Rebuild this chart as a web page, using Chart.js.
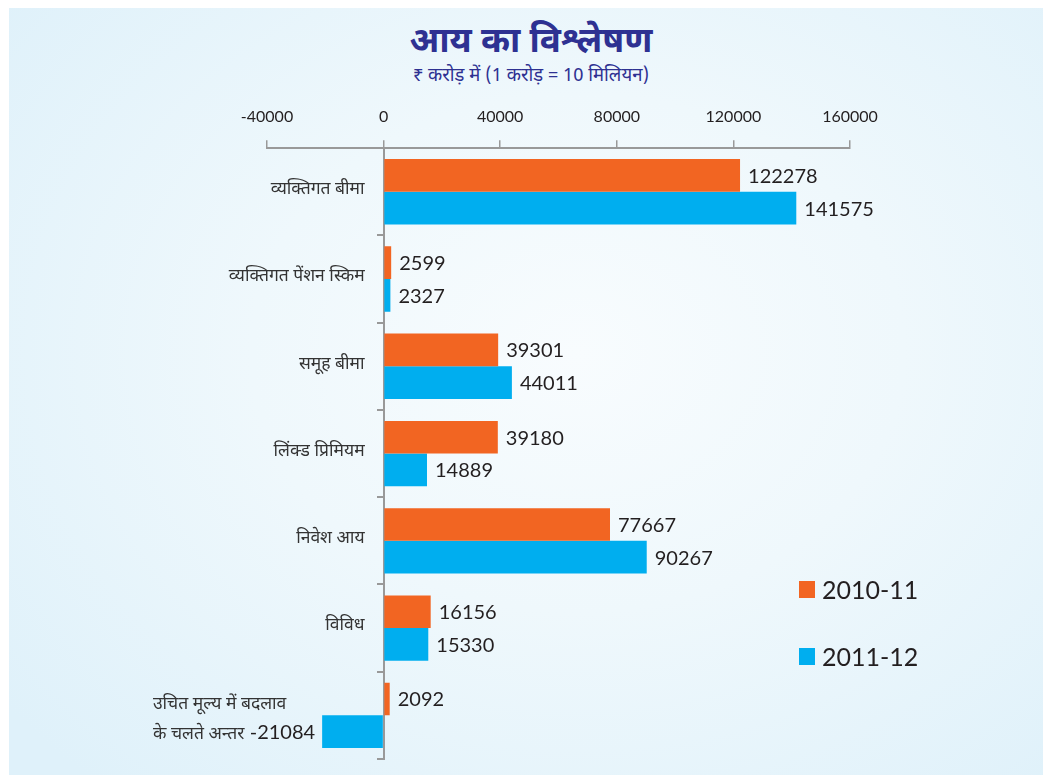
<!DOCTYPE html>
<html>
<head>
<meta charset="utf-8">
<script src="https://cdn.jsdelivr.net/npm/chart.js@4/dist/chart.umd.min.js"></script>
<style>
  html, body { margin: 0; padding: 0; background: #ffffff; }
  #wrap { position: relative; width: 1043px; height: 775px; overflow: hidden; }
  #panel { position: absolute; left: 9px; top: 8px; right: 0; bottom: 0;
    background: radial-gradient(ellipse 70% 75% at 55% 45%, #f8fcfe 0%, #eff8fc 45%, #dff1fa 100%); }
  #chart { position: absolute; left: 0; top: 0; }
  .hdr { position: absolute; left: 0; width: 1062px; text-align: center; color: #2e3192;
    font-family: "Noto Sans Devanagari", "Lohit Devanagari", "Noto Sans", sans-serif; }
  #title { top: 22px; font-size: 35px; font-weight: bold; line-height: 44px; }
  #subtitle { top: 65px; font-size: 18.5px; line-height: 24px; }
  #legend { position: absolute; left: 799px; top: 570px; font-family: Lato, "Open Sans", sans-serif; }
  .li { position: relative; height: 38px; margin-bottom: 29px; }
  .sw { position: absolute; left: 0; top: 11px; width: 16px; height: 17px; }
  .lt { position: absolute; left: 23px; top: 0; font-size: 25px; line-height: 38px; color: #231f20; white-space: nowrap; }
</style>
</head>
<body>
<div id="wrap">
  <div id="panel"></div>
  <div id="title" class="hdr">आय का विश्लेषण</div>
  <div id="subtitle" class="hdr">₹ करोड़ में (1 करोड़ = 10 मिलियन)</div>
  <canvas id="chart" width="1043" height="775"></canvas>
  <div id="legend"></div>
</div>
<script>
// ---- data ----
const categories = [
  'व्यक्तिगत बीमा',
  'व्यक्तिगत पेंशन स्किम',
  'समूह बीमा',
  'लिंक्ड प्रिमियम',
  'निवेश आय',
  'विविध',
  ['उचित मूल्य में बदलाव', 'के चलते अन्तर']
];
const seriesNames = ['2010-11', '2011-12'];
const values2010 = [122278, 2599, 39301, 39180, 77667, 16156, 2092];
const values2011 = [141575, 2327, 44011, 14889, 90267, 15330, -21084];
const xTicks = [-40000, 0, 40000, 80000, 120000, 160000];
const seriesColors = ['#f26522', '#00aeef'];

const devFont = '"Noto Sans Devanagari", "Lohit Devanagari", "Noto Sans", sans-serif';
const numFont = 'Lato, "Open Sans", sans-serif';

const categoryLabels = {
  id: 'categoryLabels',
  afterDraw(chart) {
    const ctx = chart.ctx;
    const xs = chart.scales.x, ys = chart.scales.y;
    const x0 = xs.getPixelForValue(0);
    ctx.save();
    ctx.fillStyle = '#333333';
    ctx.font = '17.5px ' + devFont;
    ctx.textBaseline = 'middle';
    categories.forEach((lab, i) => {
      const y = ys.getPixelForValue(i);
      if (Array.isArray(lab)) {
        ctx.textAlign = 'left';
        const lx = chart.chartArea.left - 114;
        ctx.fillText(lab[0], lx, y - 10);
        ctx.fillText(lab[1], lx, y + 20);
      } else {
        ctx.textAlign = 'right';
        ctx.fillText(lab, x0 - 19, y - 1);
      }
    });
    ctx.restore();
  }
};

const valueLabels = {
  id: 'valueLabels',
  afterDatasetsDraw(chart) {
    const ctx = chart.ctx;
    ctx.save();
    ctx.fillStyle = '#231f20';
    ctx.font = '20px ' + numFont;
    ctx.textBaseline = 'middle';
    chart.data.datasets.forEach((ds, di) => {
      chart.getDatasetMeta(di).data.forEach((bar, i) => {
        const v = ds.data[i];
        if (v >= 0) {
          ctx.textAlign = 'left';
          ctx.fillText(String(v), bar.x + 8, bar.y + 1);
        } else {
          ctx.textAlign = 'right';
          ctx.fillText(String(v), bar.x - 7, bar.y + 1);
        }
      });
    });
    ctx.restore();
  }
};

const chart = new Chart(document.getElementById('chart'), {
  type: 'bar',
  data: {
    labels: categories,
    datasets: [
      { label: seriesNames[0], data: values2010, backgroundColor: seriesColors[0] },
      { label: seriesNames[1], data: values2011, backgroundColor: seriesColors[1] }
    ]
  },
  options: {
    indexAxis: 'y',
    responsive: false,
    animation: false,
    devicePixelRatio: 1,
    layout: { padding: { left: 267, right: 193, top: 93, bottom: 16 } },
    datasets: { bar: { categoryPercentage: 0.75, barPercentage: 1.0 } },
    plugins: { legend: { display: false }, title: { display: false }, tooltip: { enabled: false } },
    scales: {
      x: {
        position: 'top',
        min: xTicks[0], max: xTicks[xTicks.length - 1],
        afterBuildTicks: s => { s.ticks = xTicks.map(v => ({ value: v })); },
        grid: { drawOnChartArea: false, drawTicks: true, tickLength: 8, color: '#999999', lineWidth: 1.5 },
        border: { display: true, color: '#999999', width: 2 },
        ticks: { color: '#231f20', padding: 14, font: { family: numFont, size: 16 }, maxRotation: 0,
                 callback: v => String(v) }
      },
      y: {
        position: { x: 0 },
        grid: { offset: true, drawOnChartArea: false, drawTicks: true, tickLength: 6, color: '#999999', lineWidth: 2 },
        border: { display: true, color: '#999999', width: 2 },
        ticks: { display: false }
      }
    }
  },
  plugins: [categoryLabels, valueLabels]
});

// legend from datasets
const lg = document.getElementById('legend');
chart.data.datasets.forEach(ds => {
  const d = document.createElement('div'); d.className = 'li';
  const s = document.createElement('div'); s.className = 'sw'; s.style.background = ds.backgroundColor;
  const t = document.createElement('div'); t.className = 'lt'; t.textContent = ds.label;
  d.appendChild(s); d.appendChild(t); lg.appendChild(d);
});
</script>
</body>
</html>
